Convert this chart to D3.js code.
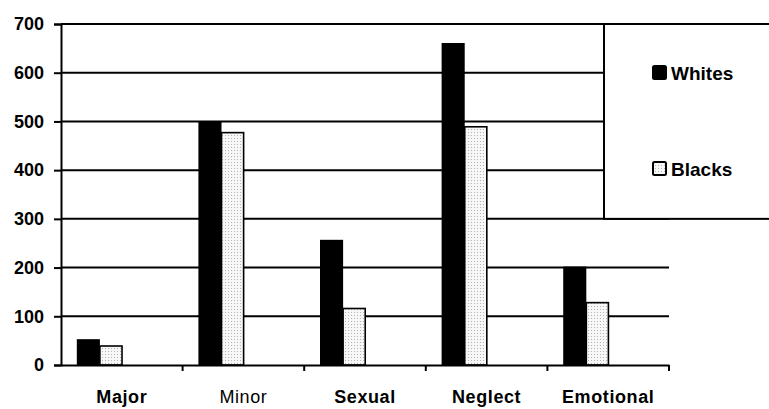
<!DOCTYPE html>
<html>
<head>
<meta charset="utf-8">
<script src="https://cdn.jsdelivr.net/npm/d3@7"></script>
<style>
  body { margin: 0; background: #fff; }
  text { font-family: "Liberation Sans", Arial, sans-serif; fill: #000; }
</style>
</head>
<body>
<svg id="chart" width="769" height="409"></svg>
<script>
const categories = ['Major', 'Minor', 'Sexual', 'Neglect', 'Emotional'];
const boldLabels = ['Major', 'Sexual', 'Neglect', 'Emotional'];
const whites = [53, 500, 257, 661, 202];
const blacks = [39, 477, 116, 489, 128];
const yTicks = [0, 100, 200, 300, 400, 500, 600, 700];
const seriesNames = ['Whites', 'Blacks'];

const svg = d3.select('#chart');
const plotLeft = 61, plotRight = 669, plotTop = 24, plotBottom = 365;

const x = d3.scaleBand().domain(categories).range([plotLeft, plotRight]);
const y = d3.scaleLinear().domain([0, 700]).range([plotBottom, plotTop]);

// stipple pattern for the Blacks series
const defs = svg.append('defs');
const pat = defs.append('pattern')
  .attr('id', 'stipple')
  .attr('width', 3).attr('height', 3)
  .attr('patternUnits', 'userSpaceOnUse');
pat.append('rect').attr('width', 3).attr('height', 3).attr('fill', '#f7f7f7');
pat.append('rect').attr('width', 1).attr('height', 1).attr('fill', '#b4b4b4');

// gridlines
svg.append('g')
  .selectAll('line')
  .data(yTicks.filter((d) => d > 0))
  .join('line')
  .attr('x1', plotLeft).attr('x2', plotRight)
  .attr('y1', (d) => y(d)).attr('y2', (d) => y(d))
  .attr('stroke', '#000').attr('stroke-width', 2);

// bars
const bw = x.bandwidth() * 0.19;
const off = x.bandwidth() * 0.13;
const bars = svg.append('g');
bars.selectAll('.w')
  .data(categories)
  .join('rect')
  .attr('class', 'w')
  .attr('x', (d) => x(d) + off)
  .attr('y', (d, i) => y(whites[i]))
  .attr('width', bw)
  .attr('height', (d, i) => plotBottom - y(whites[i]))
  .attr('fill', '#000');
bars.selectAll('.b')
  .data(categories)
  .join('rect')
  .attr('class', 'b')
  .attr('x', (d) => x(d) + off + bw)
  .attr('y', (d, i) => y(blacks[i]))
  .attr('width', bw - 1)
  .attr('height', (d, i) => plotBottom - y(blacks[i]))
  .attr('fill', 'url(#stipple)')
  .attr('stroke', '#000').attr('stroke-width', 1.6);

// y axis
const yAxis = svg.append('g')
  .attr('transform', `translate(${plotLeft},0)`)
  .call(d3.axisLeft(y).tickValues(yTicks).tickSize(7).tickPadding(10));
yAxis.select('.domain').attr('stroke-width', 2);
yAxis.selectAll('line').attr('stroke-width', 2);
yAxis.selectAll('text')
  .style('font-family', '"Liberation Sans", Arial, sans-serif')
  .style('font-size', '18px').style('font-weight', 'bold');

// x axis
const xAxis = svg.append('g')
  .attr('transform', `translate(0,${plotBottom})`)
  .call(d3.axisBottom(x).tickSize(0).tickPadding(24));
xAxis.select('.domain').attr('stroke-width', 2);
xAxis.selectAll('text')
  .attr('y', 38).attr('dy', null)
  .style('font-family', '"Liberation Sans", Arial, sans-serif')
  .style('font-size', '18px')
  .style('letter-spacing', '0.6px')
  .style('font-weight', (d) => (boldLabels.includes(d) ? 'bold' : 'normal'));
// boundary ticks between categories
xAxis.append('g')
  .selectAll('line')
  .data(categories.slice(1).map((d) => x(d)).concat([plotRight]))
  .join('line')
  .attr('x1', (d) => d).attr('x2', (d) => d)
  .attr('y1', 0).attr('y2', 6)
  .attr('stroke', '#000').attr('stroke-width', 2);

// legend
const lg = svg.append('g');
lg.append('rect')
  .attr('x', 604).attr('y', y(700))
  .attr('width', 170).attr('height', y(300) - y(700))
  .attr('fill', '#fff').attr('stroke', '#000').attr('stroke-width', 2);
const items = lg.selectAll('.item')
  .data(seriesNames)
  .join('g')
  .attr('class', 'item')
  .attr('transform', (d, i) => `translate(652,${72 + i * 96})`);
items.append('rect')
  .attr('x', 1).attr('y', -6)
  .attr('width', 13).attr('height', 13)
  .attr('rx', 1.5)
  .attr('fill', (d, i) => (i === 0 ? '#000' : 'url(#stipple)'))
  .attr('stroke', '#000').attr('stroke-width', 2);
items.append('text')
  .attr('x', 19).attr('y', 8)
  .style('font-size', '19px').style('font-weight', 'bold')
  .text((d) => d);
</script>
</body>
</html>
